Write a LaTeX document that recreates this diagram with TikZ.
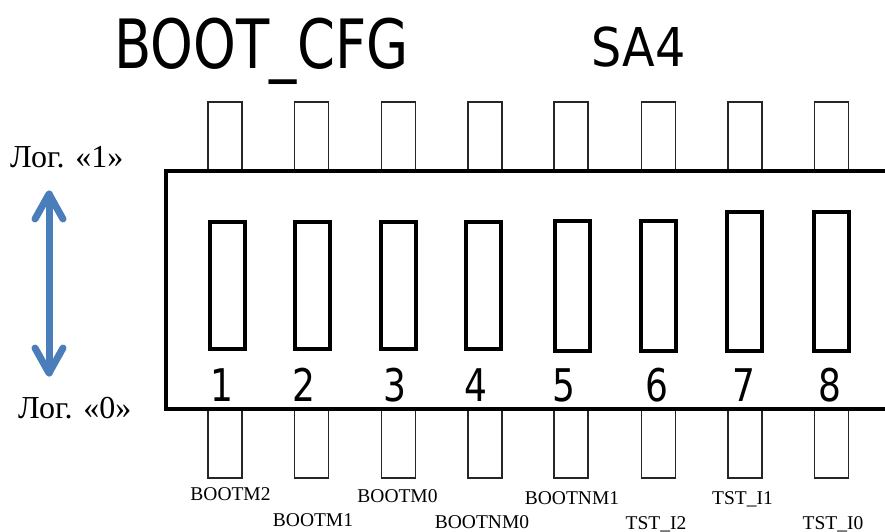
\documentclass[tikz,border=0pt]{standalone}
\usepackage{fontspec}
\setmainfont{Liberation Serif}
\newfontfamily\isofont[FakeStretch=0.8]{DejaVu Sans}
\newfontfamily\isofontb[FakeStretch=0.89]{DejaVu Sans}
\definecolor{arrowblue}{HTML}{4A7EBB}
\begin{document}
\begin{tikzpicture}[x=1pt,y=-1pt,
  pinbox/.style={draw=black!85, line width=1.1pt, minimum width=34pt, minimum height=69pt, inner sep=0pt, outer sep=0pt, anchor=north},
  swbox/.style={draw, line width=4pt, inner sep=0pt, outer sep=0pt, minimum width=35pt, anchor=north},
  num/.style={font=\isofont\fontsize{45}{45}\selectfont, anchor=base, inner sep=0pt},
  sig/.style={font=\fontsize{19.5}{20}\selectfont, anchor=base, inner sep=0pt},
  lvl/.style={font=\fontsize{32}{32}\selectfont, anchor=base west, inner sep=0pt},
  arr/.style={draw=arrowblue, line width=7pt, line cap=round, line join=round}]
\useasboundingbox (0,0) rectangle (885,531);
\clip (0,0) rectangle (885,531);

% titles
\node[font=\isofont\fontsize{68}{68}\selectfont, anchor=base, inner sep=0pt] (title) at (261.5,68) {BOOT\_CFG};
\node[font=\isofontb\fontsize{53.5}{54}\selectfont, anchor=base, inner sep=0pt] (ref) at (638.5,66) {SA4};

% pins
\foreach \i/\x in {1/225,2/311.5,3/398.5,4/485,5/571,6/658.5,7/745,8/831.5}{
  \node[pinbox] (pt\i) at (\x,102) {};
  \node[pinbox] (pb\i) at (\x,409) {};
}

% body
\draw[line width=4pt] (892,171) -- (165.5,171) -- (165.5,409) -- (892,409);

% switches
\foreach \i/\x/\t/\h in {1/227/222/127,2/312.5/222/127,3/398/222/127,4/483.5/222/127,5/572/221/130,6/658.5/221/130,7/744.5/212/139,8/831.5/212/139}{
  \node[swbox, minimum height=\h pt] (sw\i) at (\x,\t) {};
}

% numbers
\foreach \i/\x in {1/222,2/304,3/395,4/476,5/564,6/657,7/744,8/830}{
  \node[num] (n\i) at (\x,401) {\i};
}

% signal labels
\node[sig] (s1) at (230.5,500) {BOOTM2};
\node[sig] (s2) at (313,526) {BOOTM1};
\node[sig] (s3) at (397.5,502) {BOOTM0};
\node[sig] (s4) at (482,528) {BOOTNM0};
\node[sig] (s5) at (572,504) {BOOTNM1};
\node[sig] (s6) at (656,529) {TST\_I2};
\node[sig] (s7) at (742.5,504) {TST\_I1};
\node[sig] (s8) at (833,529) {TST\_I0};

% level labels
\node[lvl] (l1) at (10,167) {Лог. «1»};
\node[lvl] (l0) at (18,418) {Лог. «0»};

% arrow
\coordinate (atop) at (49,194);
\coordinate (abot) at (49,373);
\draw[arr] (atop) -- (abot);
\draw[arr] (atop) ++(-14,25) -- (atop) -- ++(14,25);
\draw[arr] (abot) ++(-14,-25) -- (abot) -- ++(14,-25);
\end{tikzpicture}
\end{document}
